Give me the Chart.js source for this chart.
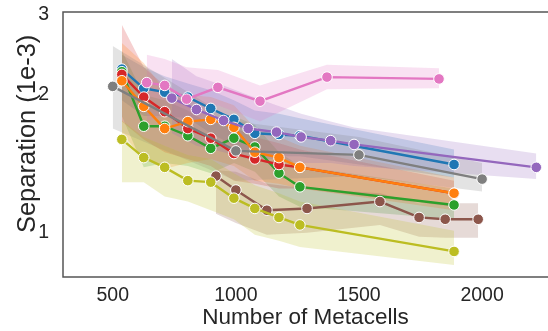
<!DOCTYPE html>
<html>
<head>
<meta charset="utf-8">
<script src="https://cdn.jsdelivr.net/npm/chart.js@4/dist/chart.umd.min.js"></script>
<style>
body { margin: 0; background: #fff; }
</style>
</head>
<body>
<canvas id="chart" width="548" height="331"></canvas>
<script>
// metacell counts (x) shared by most runs
var xMain = [537, 626, 711, 805, 898, 992, 1077, 1175, 1260, 1886];
var xPurple = [740, 840, 950, 1050, 1165, 1265, 1385, 1480, 2220];
var xPink = [638, 711, 800, 927, 1098, 1370, 1825];
var xGray = [500, 1000, 1500, 2000];
var xBrown = [919, 1000, 1126, 1289, 1585, 1744, 1850, 1984];

// separation (1e-3): mean, lower and upper band
var blueMean = [2.28, 2.07, 2.03, 1.98, 1.87, 1.77, 1.65, 1.64, 1.63, 1.41];
var blueLow = [1.95, 1.80, 1.80, 1.78, 1.65, 1.55, 1.47, 1.47, 1.47, 1.32];
var blueHigh = [2.45, 2.30, 2.20, 2.12, 2.05, 1.95, 1.85, 1.82, 1.78, 1.52];

var greenMean = [2.25, 1.71, 1.71, 1.63, 1.53, 1.61, 1.54, 1.35, 1.26, 1.15];
var greenLow = [1.80, 1.39, 1.42, 1.40, 1.35, 1.42, 1.36, 1.20, 1.14, 1.07];
var greenHigh = [2.50, 2.00, 1.95, 1.85, 1.72, 1.80, 1.72, 1.50, 1.40, 1.25];

var redMean = [2.22, 1.98, 1.84, 1.69, 1.61, 1.49, 1.45, 1.41, 1.39, 1.22];
var redLow = [1.75, 1.60, 1.50, 1.45, 1.40, 1.30, 1.28, 1.25, 1.25, 1.14];
var redHigh = [2.85, 2.30, 2.10, 1.90, 1.80, 1.70, 1.62, 1.57, 1.52, 1.30];

var orangeMean = [2.15, 1.89, 1.69, 1.75, 1.77, 1.70, 1.50, 1.46, 1.39, 1.22];
var orangeLow = [1.65, 1.45, 1.38, 1.42, 1.45, 1.40, 1.30, 1.28, 1.25, 1.12];
var orangeHigh = [2.60, 2.35, 2.05, 2.00, 1.98, 1.90, 1.70, 1.62, 1.55, 1.32];

var purpleMean = [1.97, 1.86, 1.76, 1.69, 1.66, 1.62, 1.59, 1.56, 1.39];
var purpleLow = [1.65, 1.55, 1.50, 1.45, 1.45, 1.42, 1.42, 1.40, 1.31];
var purpleHigh = [2.40, 2.20, 2.10, 2.00, 1.90, 1.82, 1.75, 1.70, 1.49];

var brownMean = [1.33, 1.24, 1.12, 1.13, 1.17, 1.08, 1.07, 1.07];
var brownLow = [1.10, 1.05, 0.99, 1.00, 1.04, 0.98, 0.975, 0.975];
var brownHigh = [1.37, 1.36, 1.28, 1.25, 1.22, 1.16, 1.16, 1.16];

var pinkMean = [2.13, 2.10, 1.96, 2.08, 1.94, 2.19, 2.17];
var pinkLow = [1.75, 1.80, 1.70, 1.90, 1.75, 2.06, 2.07];
var pinkHigh = [2.45, 2.40, 2.30, 2.27, 2.10, 2.33, 2.29];

var grayMean = [2.09, 1.51, 1.48, 1.31];
var grayLow = [1.69, 1.30, 1.33, 1.23];
var grayHigh = [2.56, 1.75, 1.62, 1.42];

var oliveMean = [1.60, 1.46, 1.39, 1.30, 1.29, 1.19, 1.13, 1.08, 1.04, 0.91];
var oliveLow = [1.29, 1.29, 1.20, 1.17, 1.12, 1.07, 0.99, 0.96, 0.93, 0.85];
var oliveHigh = [1.76, 1.62, 1.55, 1.48, 1.45, 1.35, 1.27, 1.22, 1.17, 1.01];

var xTicks = [500, 1000, 1500, 2000];
var yTicks = [1, 2, 3];

// drawn bottom to top
var series = [
	{ x: xMain, mean: blueMean, low: blueLow, high: blueHigh, color: '31,119,180' },
	{ x: xMain, mean: greenMean, low: greenLow, high: greenHigh, color: '44,160,44' },
	{ x: xMain, mean: redMean, low: redLow, high: redHigh, color: '214,39,40' },
	{ x: xMain, mean: orangeMean, low: orangeLow, high: orangeHigh, color: '255,127,14' },
	{ x: xPurple, mean: purpleMean, low: purpleLow, high: purpleHigh, color: '148,103,189' },
	{ x: xBrown, mean: brownMean, low: brownLow, high: brownHigh, color: '140,86,75' },
	{ x: xPink, mean: pinkMean, low: pinkLow, high: pinkHigh, color: '227,119,194' },
	{ x: xGray, mean: grayMean, low: grayLow, high: grayHigh, color: '127,127,127' },
	{ x: xMain, mean: oliveMean, low: oliveLow, high: oliveHigh, color: '188,189,34' }
];

function toPoints(xs, ys) {
	return xs.map(function(x, i) {
		return { x: x, y: ys[i] };
	});
}

var datasets = [];
series.forEach(function(s, k) {
	datasets.push({
		data: toPoints(s.x, s.high),
		borderWidth: 0,
		pointRadius: 0,
		backgroundColor: 'rgba(' + s.color + ',0.22)',
		fill: '+1',
		order: 200 - k
	});
	datasets.push({
		data: toPoints(s.x, s.low),
		borderWidth: 0,
		pointRadius: 0,
		fill: false,
		order: 200 - k
	});
});
series.forEach(function(s, k) {
	datasets.push({
		data: toPoints(s.x, s.mean),
		borderColor: 'rgb(' + s.color + ')',
		backgroundColor: 'rgb(' + s.color + ')',
		borderWidth: 2.4,
		pointRadius: 5.3,
		pointBorderWidth: 1,
		pointBorderColor: '#fff',
		pointBackgroundColor: 'rgb(' + s.color + ')',
		fill: false,
		order: 100 - k
	});
});

var spines = {
	id: 'spines',
	afterDraw: function(chart) {
		var a = chart.chartArea, ctx = chart.ctx;
		ctx.save();
		ctx.strokeStyle = '#555';
		ctx.lineWidth = 1.5;
		ctx.beginPath();
		ctx.moveTo(chart.width, a.top);
		ctx.lineTo(a.left, a.top);
		ctx.lineTo(a.left, a.bottom);
		ctx.lineTo(chart.width, a.bottom);
		ctx.stroke();
		ctx.restore();
	}
};

var font = 'Liberation Sans, Arial, sans-serif';

new Chart(document.getElementById('chart'), {
	type: 'line',
	data: { datasets: datasets },
	plugins: [spines],
	options: {
		responsive: false,
		animation: false,
		layout: { padding: { top: 12, right: 0, left: 0, bottom: 0 } },
		plugins: {
			legend: { display: false },
			tooltip: { enabled: false },
			filler: { drawTime: 'beforeDatasetsDraw' }
		},
		elements: { line: { tension: 0 } },
		scales: {
			x: {
				type: 'linear',
				min: 298,
				max: 2242,
				grid: { display: false, drawTicks: false },
				border: { display: false },
				afterBuildTicks: function(scale) {
					scale.ticks = xTicks.map(function(v) { return { value: v }; });
				},
				afterFit: function(scale) {
					scale.height = 54;
					scale.paddingLeft = 0;
					scale.paddingRight = 0;
				},
				ticks: {
					padding: 7,
					color: '#262626',
					font: { family: font, size: 19.5 },
					maxRotation: 0,
					callback: function(v) { return String(v); }
				},
				title: {
					display: true,
					text: ' Number of Metacells',
					color: '#262626',
					font: { family: font, size: 22.5 },
					padding: { top: 0, bottom: 0 }
				}
			},
			y: {
				type: 'logarithmic',
				min: 0.8,
				max: 3.04,
				grid: { display: false, drawTicks: false },
				border: { display: false },
				afterBuildTicks: function(scale) {
					scale.ticks = yTicks.map(function(v) { return { value: v }; });
				},
				afterFit: function(scale) {
					scale.width = 63;
					scale.paddingTop = 0;
					scale.paddingBottom = 0;
				},
				ticks: {
					padding: 14,
					color: '#262626',
					font: { family: font, size: 19.5 },
					callback: function(v) { return String(v); }
				},
				title: {
					display: true,
					text: '   Separation (1e-3)',
					color: '#262626',
					font: { family: font, size: 25.5 },
					padding: { top: 13, bottom: 0 }
				}
			}
		}
	}
});
</script>
</body>
</html>
